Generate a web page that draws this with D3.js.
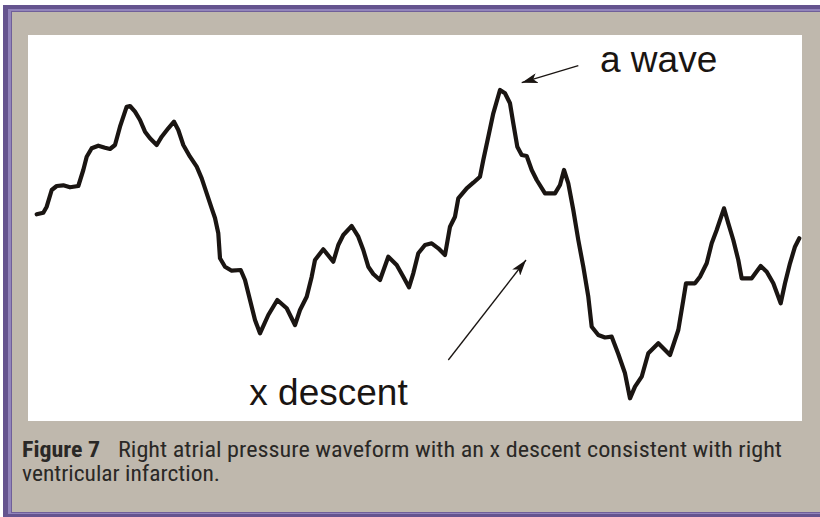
<!DOCTYPE html>
<html>
<head>
<meta charset="utf-8">
<script src="https://cdn.jsdelivr.net/npm/d3@7"></script>
<style>
  body { margin: 0; background: #ffffff; }
  svg { display: block; }
</style>
</head>
<body>
<div id="figure"></div>
<script>
var outerWidth = 820,
    outerHeight = 517
var plotBox = { left: 28, top: 35, right: 802, bottom: 421 }

// waveform (time / pressure, arbitrary units)
var timeValues = [
  8.7, 15.3, 18.7, 23.7, 28.7, 35.3, 42, 50.3, 55.3, 58.7, 63.7, 70.3, 77, 82, 87, 92,
  98.7, 102, 107, 112, 117, 122, 128.7, 133.7, 140.3, 146, 150.3, 155.3, 162, 168.7, 173.7, 178.7,
  183.7, 187, 190.3, 192, 197, 203.7, 212.7, 217, 222, 227, 232, 240.3, 249.3, 258.7, 267, 272,
  278.7, 283.7, 287, 295.3, 305.3, 310.3, 315.3, 323.7, 330.3, 335.3, 340.3, 345.3, 352, 360.3, 368.7, 375.3,
  381, 385.3, 390.3, 397, 403.7, 410.3, 417, 422, 427, 430.3, 438.7, 445.3, 452, 455.3, 460.3, 465.3,
  472, 477, 482, 485.3, 489.3, 493.7, 498.7, 503.7, 508.7, 517, 527, 532, 536, 540.3, 545.3, 550.3,
  555.3, 560.3, 563.7, 570.3, 577, 583.7, 590.3, 597, 602, 607, 613.7, 620.3, 630.3, 635.3, 642, 650.3,
  655.3, 658, 667, 672, 678.7, 683.7, 688.7, 696, 700.3, 705.3, 710.3, 713.7, 723.7, 732.7, 738.7, 745.3,
  752.7, 757, 762, 767, 771.3
]
var pressureValues = [
  206.7, 208.3, 214.3, 231, 235, 235.7, 233.7, 235, 251, 264.3, 272.7, 275.3, 273.3, 272, 276, 294.3,
  314.3, 315, 309.3, 301, 289.3, 282.7, 276, 284.3, 292.7, 299.3, 291, 276, 264.3, 254.3, 242.7, 227.7,
  212.7, 203, 187.7, 162.7, 154.3, 150.3, 151, 141, 121, 101, 87.7, 106, 121, 112.7, 96, 111,
  124.3, 144.3, 161, 171.7, 159.3, 176, 186, 195, 184.3, 171, 154.3, 147, 141, 164.3, 156, 144.3,
  133.7, 147.7, 167.7, 176, 177.7, 172.7, 166, 194.3, 204.3, 222.7, 232.7, 238.3, 244.3, 261, 284.3, 307.7,
  331, 327.7, 317.7, 297.7, 274.3, 266, 265, 251, 241, 227.7, 227.7, 236, 251, 237.7, 211, 181,
  154.3, 124.3, 94.3, 86, 83.5, 84.3, 67, 47.7, 22.7, 34.3, 44.3, 67.7, 77.7, 72.7, 66, 91,
  121, 137.7, 137.7, 144.3, 157.7, 177.7, 191, 212.7, 197.7, 181, 161, 142.7, 142.7, 155, 149.3, 137.7,
  117.7, 137.7, 157.7, 174.3, 182.7
]

// annotation labels and arrows (start -> tip), same units as the trace
var labelText = ["a wave", "x descent"]
var labelTime = [572, 221.3]
var labelPressure = [349.3, 16]
var arrowStart = [[550.3, 355.3], [420.3, 61]]
var arrowTip = [[493.7, 338.3], [498, 161]]

var captionBold = "Figure 7"
var captionLines = [
  "Right atrial pressure waveform with an x descent consistent with right",
  "ventricular infarction."
]

var svg = d3.select("#figure")
    .append("svg")
    .attr("width", outerWidth)
    .attr("height", outerHeight)

// frame
svg.append("rect").attr("x", 3).attr("y", 5).attr("width", outerWidth - 3).attr("height", outerHeight - 5).attr("fill", "#65548f")
svg.append("rect").attr("x", 8).attr("y", 9).attr("width", outerWidth - 8).attr("height", 505).attr("fill", "#9284bb")
svg.append("rect").attr("x", 11).attr("y", 11).attr("width", outerWidth - 11).attr("height", 502).attr("fill", "#6f5f99")
svg.append("rect").attr("x", 12).attr("y", 12).attr("width", outerWidth - 12).attr("height", 500).attr("fill", "#bfb8ad")

svg.append("rect")
    .attr("x", plotBox.left)
    .attr("y", plotBox.top)
    .attr("width", plotBox.right - plotBox.left)
    .attr("height", plotBox.bottom - plotBox.top)
    .attr("fill", "#ffffff")

var xScale = d3.scaleLinear().domain([0, 774]).range([plotBox.left, plotBox.right])
var yScale = d3.scaleLinear().domain([0, 386]).range([plotBox.bottom, plotBox.top])

var trace = d3.range(timeValues.length).map(function(i) {
    return { t: timeValues[i], p: pressureValues[i] }
})

const line = d3.line()
    .x(d => xScale(d.t))
    .y(d => yScale(d.p))
    .curve(d3.curveLinear)

svg.append("path")
    .datum(trace)
    .attr("d", line)
    .attr("fill", "none")
    .attr("stroke", "#1a1512")
    .attr("stroke-width", 4.2)
    .attr("stroke-linejoin", "round")
    .attr("stroke-linecap", "round")

// arrow heads
svg.append("defs").append("marker")
    .attr("id", "head")
    .attr("viewBox", "0 0 16 10")
    .attr("refX", 16)
    .attr("refY", 5)
    .attr("markerWidth", 16)
    .attr("markerHeight", 10)
    .attr("markerUnits", "userSpaceOnUse")
    .attr("orient", "auto")
    .append("path")
    .attr("d", "M0,0 L16,5 L0,10 L4,5 Z")
    .attr("fill", "#1a1512")

arrowStart.forEach(function(s, i) {
    svg.append("line")
        .attr("x1", xScale(s[0]))
        .attr("y1", yScale(s[1]))
        .attr("x2", xScale(arrowTip[i][0]))
        .attr("y2", yScale(arrowTip[i][1]))
        .attr("stroke", "#1a1512")
        .attr("stroke-width", 1.3)
        .attr("marker-end", "url(#head)")
})

labelText.forEach(function(t, i) {
    svg.append("text")
        .attr("x", xScale(labelTime[i]))
        .attr("y", yScale(labelPressure[i]))
        .attr("font-family", "'Liberation Sans', Arial, Helvetica, sans-serif")
        .attr("font-size", "37px")
        .attr("fill", "#1a1512")
        .text(t)
})

// caption (condensed face, stretched to the original line widths)
var capFont = "'Liberation Sans Narrow', 'Roboto Condensed', 'DejaVu Sans Condensed', sans-serif"
function capText(x, y, len, str, bold) {
    svg.append("text")
        .attr("x", x)
        .attr("y", y)
        .attr("font-family", capFont)
        .attr("font-stretch", "condensed")
        .attr("font-size", "22px")
        .attr("font-weight", bold ? "bold" : "normal")
        .attr("fill", "#2a2826")
        .attr("textLength", len)
        .attr("lengthAdjust", "spacingAndGlyphs")
        .text(str)
}
capText(22, 457, 78, captionBold, true)
capText(118, 457, 664, captionLines[0], false)
capText(22, 481, 198, captionLines[1], false)
</script>
</body>
</html>
